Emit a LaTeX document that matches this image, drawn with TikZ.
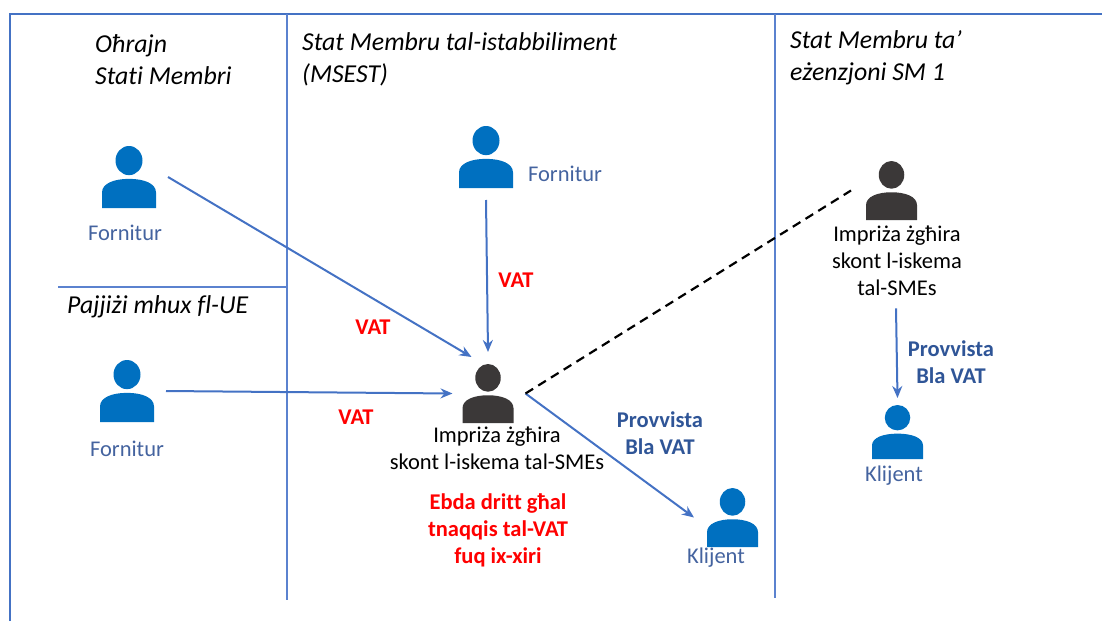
\documentclass[tikz,border=0pt]{standalone}
\usepackage{fontspec}
\setmainfont{Carlito}[Ligatures=NoCommon]
\usetikzlibrary{calc}
\usetikzlibrary{arrows.meta}
\definecolor{framecol}{HTML}{4472C4}
\definecolor{linecol}{HTML}{5B82CF}
\definecolor{iconblue}{HTML}{0070C0}
\definecolor{icondark}{HTML}{3B3838}
\definecolor{labelblue}{HTML}{44639F}
\definecolor{boldblue}{HTML}{2F5597}
\tikzset{
    person/.style n args={3}{
        minimum width=#2pt, minimum height=#3pt, inner sep=0pt, outer sep=0pt,
        path picture={
            \begin{scope}[x=#2pt, y=#3pt]
                \fill[#1] (0,0.265) ellipse (0.25 and 0.235);
                \fill[#1] (-0.5,-0.5) -- (-0.5,-0.25) .. controls (-0.5,-0.1) and (-0.27,-0.03) .. (0,-0.03)
                    .. controls (0.27,-0.03) and (0.5,-0.1) .. (0.5,-0.25) -- (0.5,-0.5) -- cycle;
            \end{scope}
        }
    }
}
\begin{document}
\begin{tikzpicture}[x=1pt, y=-1pt]
            \useasboundingbox (0,0) rectangle (1102,621);

            \draw [framecol, line width=2pt] (10,621) -- (10,14) -- (1102,14);
            \draw [linecol, line width=1.1pt] (287,14) -- (287,600);
            \draw [linecol, line width=1.1pt] (775,14) -- (775,598);
            \draw [linecol, line width=1.1pt] (58,287) -- (287,287);

            \node [person={iconblue}{54}{62}] (fornitur1) at (129,177) {};
            \node [person={iconblue}{54}{62}] (fornitur2) at (127,391) {};
            \node [person={iconblue}{54}{62}] (fornitur3) at (486,157) {};
            \node [person={icondark}{51}{59}] (impriza1) at (488,393.5) {};
            \node [person={icondark}{51}{59}] (impriza2) at (891.5,190.5) {};
            \node [person={iconblue}{51}{59}] (klijent1) at (732.5,517.5) {};
            \node [person={iconblue}{51}{54}] (klijent2) at (897.5,432) {};

            \begin{scope}[every node/.style={font=\fontsize{25.8}{32}\selectfont\itshape, align=left, anchor=west, inner sep=0pt}]
                \node (ohrajn) at (95,60) {Oħrajn\\Stati Membri};
                \node (msest) at (302,59) {Stat Membru tal-istabbiliment\\(MSEST)};
                \node (ezenzjoni) at (790,58) {Stat Membru ta’\\eżenzjoni SM 1};
                \node (pajjizi) at (67,307) {Pajjiżi mhux fl-UE};
            \end{scope}

            \begin{scope}[every node/.style={font=\fontsize{22.5}{27}\selectfont, text=labelblue, align=center}]
                \node (lblfornitur1) at (125,233) {Fornitur};
                \node (lblfornitur2) at (127,449) {Fornitur};
                \node (lblfornitur3) at (565,174) {Fornitur};
                \node (lblklijent1) at (716,558) {Klijent};
                \node (lblklijent2) at (894,476) {Klijent};
            \end{scope}

            \begin{scope}[every node/.style={font=\fontsize{22.5}{27}\selectfont, text=black, align=center}]
                \node (lblimpriza1) at (497,448) {Impriża żgħira\\skont l-iskema tal-SMEs};
                \node (lblimpriza2) at (897,261) {Impriża żgħira\\skont l-iskema\\tal-SMEs};
            \end{scope}

            \begin{scope}[every node/.style={font=\fontsize{22.5}{27}\selectfont\bfseries, text=red, align=center}]
                \node (vat1) at (373,327) {VAT};
                \node (vat2) at (356,417) {VAT};
                \node (vat3) at (516,280) {VAT};
                \node (dritt) at (498,530) {Ebda dritt għal\\tnaqqis tal-VAT\\fuq ix-xiri};
            \end{scope}

            \begin{scope}[every node/.style={font=\fontsize{22.5}{27}\selectfont\bfseries, text=boldblue, align=center}]
                \node (provvista1) at (660,433) {Provvista\\Bla VAT};
                \node (provvista2) at (951,362) {Provvista\\Bla VAT};
            \end{scope}

            \begin{scope}[every path/.style={framecol, line width=2pt, -{Stealth[length=12pt, width=10pt]}}]
                \path ([xshift=12pt]fornitur1.east) edge ([shift={(9,-7)}]impriza1.north west);
                \path ([xshift=12pt]fornitur2.east) edge ([xshift=-10pt]impriza1.west);
                \path ([yshift=-12pt]fornitur3.south) edge ([shift={(0,-12)}]impriza1.north);
                \path ([xshift=12pt]impriza1.east) edge ([shift={(-13,0)}]klijent1.west);
                \path ([shift={(-1,9)}]lblimpriza2.south) edge ([yshift=7pt]klijent2.north);
            \end{scope}

            \draw [black, line width=2.2pt, dash pattern=on 9pt off 6pt] ([xshift=12pt]impriza1.east) -- ([shift={(-15,0)}]impriza2.west);
        \end{tikzpicture}
\end{document}
